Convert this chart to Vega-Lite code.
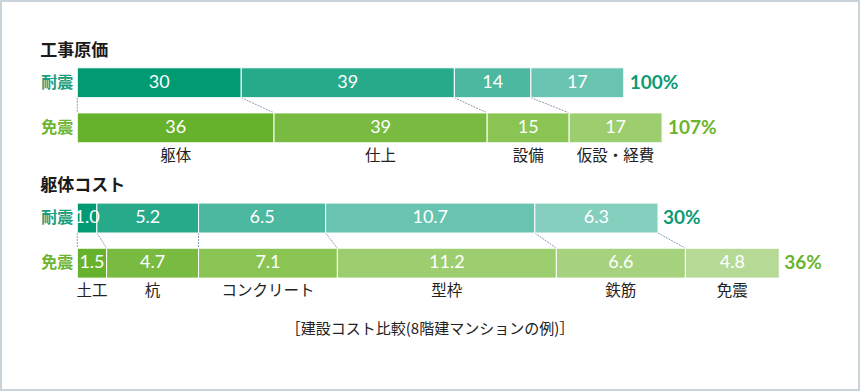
{
  "$schema": "https://vega.github.io/schema/vega-lite/v6.json",
  "width": 860,
  "height": 391,
  "autosize": {"type": "fit", "contains": "padding"},
  "padding": 0,
  "background": "white",
  "config": {
    "view": {"stroke": "#c9d3da", "strokeWidth": 4},
    "font": "Noto Sans CJK JP"
  },
  "datasets": {
    "kouji": [
      {"section": "工事原価", "row": "工事原価・耐震", "series": "耐震", "item": "躯体", "k": 1, "v": 30},
      {"section": "工事原価", "row": "工事原価・耐震", "series": "耐震", "item": "仕上", "k": 2, "v": 39},
      {"section": "工事原価", "row": "工事原価・耐震", "series": "耐震", "item": "設備", "k": 3, "v": 14},
      {"section": "工事原価", "row": "工事原価・耐震", "series": "耐震", "item": "仮設・経費", "k": 4, "v": 17},
      {"section": "工事原価", "row": "工事原価・免震", "series": "免震", "item": "躯体", "k": 1, "v": 36},
      {"section": "工事原価", "row": "工事原価・免震", "series": "免震", "item": "仕上", "k": 2, "v": 39},
      {"section": "工事原価", "row": "工事原価・免震", "series": "免震", "item": "設備", "k": 3, "v": 15},
      {"section": "工事原価", "row": "工事原価・免震", "series": "免震", "item": "仮設・経費", "k": 4, "v": 17}
    ],
    "kutai": [
      {"section": "躯体コスト", "row": "躯体コスト・耐震", "series": "耐震", "item": "土工", "k": 1, "v": 1.0},
      {"section": "躯体コスト", "row": "躯体コスト・耐震", "series": "耐震", "item": "杭", "k": 2, "v": 5.2},
      {"section": "躯体コスト", "row": "躯体コスト・耐震", "series": "耐震", "item": "コンクリート", "k": 3, "v": 6.5},
      {"section": "躯体コスト", "row": "躯体コスト・耐震", "series": "耐震", "item": "型枠", "k": 4, "v": 10.7},
      {"section": "躯体コスト", "row": "躯体コスト・耐震", "series": "耐震", "item": "鉄筋", "k": 5, "v": 6.3},
      {"section": "躯体コスト", "row": "躯体コスト・免震", "series": "免震", "item": "土工", "k": 1, "v": 1.5},
      {"section": "躯体コスト", "row": "躯体コスト・免震", "series": "免震", "item": "杭", "k": 2, "v": 4.7},
      {"section": "躯体コスト", "row": "躯体コスト・免震", "series": "免震", "item": "コンクリート", "k": 3, "v": 7.1},
      {"section": "躯体コスト", "row": "躯体コスト・免震", "series": "免震", "item": "型枠", "k": 4, "v": 11.2},
      {"section": "躯体コスト", "row": "躯体コスト・免震", "series": "免震", "item": "鉄筋", "k": 5, "v": 6.6},
      {"section": "躯体コスト", "row": "躯体コスト・免震", "series": "免震", "item": "免震", "k": 6, "v": 4.8}
    ],
    "links": [
      {"section": "工事原価", "top": "工事原価・耐震", "bot": "工事原価・免震", "a": 0, "b": 0},
      {"section": "工事原価", "top": "工事原価・耐震", "bot": "工事原価・免震", "a": 30, "b": 36},
      {"section": "工事原価", "top": "工事原価・耐震", "bot": "工事原価・免震", "a": 69, "b": 75},
      {"section": "工事原価", "top": "工事原価・耐震", "bot": "工事原価・免震", "a": 83, "b": 90},
      {"section": "躯体コスト", "top": "躯体コスト・耐震", "bot": "躯体コスト・免震", "a": 0, "b": 0},
      {"section": "躯体コスト", "top": "躯体コスト・耐震", "bot": "躯体コスト・免震", "a": 1.0, "b": 1.5},
      {"section": "躯体コスト", "top": "躯体コスト・耐震", "bot": "躯体コスト・免震", "a": 6.2, "b": 6.2},
      {"section": "躯体コスト", "top": "躯体コスト・耐震", "bot": "躯体コスト・免震", "a": 12.7, "b": 13.3},
      {"section": "躯体コスト", "top": "躯体コスト・耐震", "bot": "躯体コスト・免震", "a": 23.4, "b": 24.5},
      {"section": "躯体コスト", "top": "躯体コスト・耐震", "bot": "躯体コスト・免震", "a": 29.7, "b": 31.1}
    ]
  },
  "encoding": {
    "y": {
      "field": "row", "type": "nominal", "axis": null,
      "scale": {"type": "band", "domain": ["_a", "工事原価・耐震", "工事原価・免震", "gap", "躯体コスト・耐震", "躯体コスト・免震", "_b", "_c"], "paddingInner": 0.337, "paddingOuter": 0.503}
    }
  },
  "resolve": {"scale": {"x": "independent", "color": "independent"}},
  "layer": [
    {
      "data": {"name": "kouji"},
      "resolve": {"scale": {"color": "independent"}},
      "layer": [
        {
          "data": {"name": "links"},
          "transform": [{"filter": "datum.section == '工事原価'"}],
          "mark": {"type": "rule", "color": "#8a9bb0", "strokeWidth": 1, "strokeDash": [2, 1]},
          "encoding": {
            "x": {"field": "a", "type": "quantitative", "axis": null, "scale": {"domain": [-14.14, 143.22], "nice": false, "zero": false}},
            "x2": {"field": "b"},
            "y": {"field": "top", "type": "nominal", "bandPosition": 1, "axis": null,
              "scale": {"type": "band", "domain": ["_a", "工事原価・耐震", "工事原価・免震", "gap", "躯体コスト・耐震", "躯体コスト・免震", "_b", "_c"], "paddingInner": 0.337, "paddingOuter": 0.503}},
            "y2": {"field": "bot", "bandPosition": 0}
          }
        },
        {
          "transform": [{"filter": "datum.series == '耐震'"}],
          "mark": {"type": "bar", "stroke": "white", "strokeWidth": 1},
          "encoding": {
            "x": {"field": "v", "type": "quantitative", "stack": "zero", "axis": null, "scale": {"domain": [-14.14, 143.22], "nice": false, "zero": false}},
            "order": {"field": "k", "type": "quantitative"},
            "color": {"field": "item", "type": "nominal", "legend": null,
              "scale": {"domain": ["躯体", "仕上", "設備", "仮設・経費"], "range": ["#009a73", "#26aa8a", "#4cb8a0", "#68c4b0"]}}
          }
        },
        {
          "transform": [{"filter": "datum.series == '免震'"}],
          "mark": {"type": "bar", "stroke": "white", "strokeWidth": 1},
          "encoding": {
            "x": {"field": "v", "type": "quantitative", "stack": "zero", "axis": null, "scale": {"domain": [-14.14, 143.22], "nice": false, "zero": false}},
            "order": {"field": "k", "type": "quantitative"},
            "color": {"field": "item", "type": "nominal", "legend": null,
              "scale": {"domain": ["躯体", "仕上", "設備", "仮設・経費"], "range": ["#66b22c", "#79bb41", "#8ac554", "#9ccd6e"]}}
          }
        },
        {
          "mark": {"type": "text", "color": "white", "fontSize": 18, "font": "Lato", "baseline": "middle"},
          "encoding": {
            "x": {"field": "v", "type": "quantitative", "stack": "zero", "bandPosition": 0.5, "axis": null, "scale": {"domain": [-14.14, 143.22], "nice": false, "zero": false}},
            "detail": {"field": "item"},
            "order": {"field": "k", "type": "quantitative"},
            "text": {"field": "v", "type": "quantitative", "format": "d"}
          }
        },
        {
          "transform": [{"filter": "datum.series == '免震'"}],
          "mark": {"type": "text", "color": "#222222", "fontSize": 15.5, "baseline": "middle", "dy": 13},
          "encoding": {
            "x": {"field": "v", "type": "quantitative", "stack": "zero", "bandPosition": 0.5, "axis": null, "scale": {"domain": [-14.14, 143.22], "nice": false, "zero": false}},
            "y": {"field": "row", "type": "nominal", "bandPosition": 1, "axis": null,
              "scale": {"type": "band", "domain": ["_a", "工事原価・耐震", "工事原価・免震", "gap", "躯体コスト・耐震", "躯体コスト・免震", "_b", "_c"], "paddingInner": 0.337, "paddingOuter": 0.503}},
            "detail": {"field": "item"},
            "order": {"field": "k", "type": "quantitative"},
            "text": {"field": "item"}
          }
        },
        {
          "transform": [
            {"aggregate": [{"op": "sum", "field": "v", "as": "total"}], "groupby": ["section", "row", "series"]},
            {"calculate": "format(datum.total, '.0f') + '%'", "as": "label"}
          ],
          "layer": [
            {
              "mark": {"type": "text", "align": "left", "baseline": "middle", "dx": 6, "fontSize": 19, "fontWeight": "bold", "font": "Lato"},
              "encoding": {
                "x": {"field": "total", "type": "quantitative", "axis": null, "scale": {"domain": [-14.14, 143.22], "nice": false, "zero": false}},
                "text": {"field": "label"},
                "color": {"condition": {"test": "datum.series == '耐震'", "value": "#0b9a76"}, "value": "#6ab42d"}
              }
            },
            {
              "mark": {"type": "text", "align": "right", "baseline": "middle", "dx": -4, "fontSize": 16, "fontWeight": "bold"},
              "encoding": {
                "x": {"datum": 0, "type": "quantitative", "axis": null, "scale": {"domain": [-14.14, 143.22], "nice": false, "zero": false}},
                "text": {"field": "series"},
                "color": {"condition": {"test": "datum.series == '耐震'", "value": "#1a9e7c"}, "value": "#6cb533"}
              }
            },
            {
              "transform": [{"filter": "datum.series == '耐震'"}],
              "mark": {"type": "text", "align": "left", "baseline": "middle", "dx": -37, "dy": -32, "fontSize": 17, "fontWeight": "bold", "color": "#1a1a1a"},
              "encoding": {
                "x": {"datum": 0, "type": "quantitative", "axis": null, "scale": {"domain": [-14.14, 143.22], "nice": false, "zero": false}},
                "text": {"field": "section"}
              }
            }
          ]
        }
      ]
    },
    {
      "data": {"name": "kutai"},
      "resolve": {"scale": {"color": "independent"}},
      "layer": [
        {
          "data": {"name": "links"},
          "transform": [{"filter": "datum.section == '躯体コスト'"}],
          "mark": {"type": "rule", "color": "#8a9bb0", "strokeWidth": 1, "strokeDash": [2, 1]},
          "encoding": {
            "x": {"field": "a", "type": "quantitative", "axis": null, "scale": {"domain": [-3.954, 40.03], "nice": false, "zero": false}},
            "x2": {"field": "b"},
            "y": {"field": "top", "type": "nominal", "bandPosition": 1, "axis": null,
              "scale": {"type": "band", "domain": ["_a", "工事原価・耐震", "工事原価・免震", "gap", "躯体コスト・耐震", "躯体コスト・免震", "_b", "_c"], "paddingInner": 0.337, "paddingOuter": 0.503}},
            "y2": {"field": "bot", "bandPosition": 0}
          }
        },
        {
          "transform": [{"filter": "datum.series == '耐震'"}],
          "mark": {"type": "bar", "stroke": "white", "strokeWidth": 1},
          "encoding": {
            "x": {"field": "v", "type": "quantitative", "stack": "zero", "axis": null, "scale": {"domain": [-3.954, 40.03], "nice": false, "zero": false}},
            "order": {"field": "k", "type": "quantitative"},
            "color": {"field": "item", "type": "nominal", "legend": null,
              "scale": {"domain": ["土工", "杭", "コンクリート", "型枠", "鉄筋"], "range": ["#009a73", "#26aa8a", "#4cb8a0", "#68c4b0", "#84cfbd"]}}
          }
        },
        {
          "transform": [{"filter": "datum.series == '免震'"}],
          "mark": {"type": "bar", "stroke": "white", "strokeWidth": 1},
          "encoding": {
            "x": {"field": "v", "type": "quantitative", "stack": "zero", "axis": null, "scale": {"domain": [-3.954, 40.03], "nice": false, "zero": false}},
            "order": {"field": "k", "type": "quantitative"},
            "color": {"field": "item", "type": "nominal", "legend": null,
              "scale": {"domain": ["土工", "杭", "コンクリート", "型枠", "鉄筋", "免震"], "range": ["#66b22c", "#79bb41", "#8ac554", "#9ccd6e", "#a6d27d", "#b6da95"]}}
          }
        },
        {
          "mark": {"type": "text", "color": "white", "fontSize": 18, "font": "Lato", "baseline": "middle"},
          "encoding": {
            "x": {"field": "v", "type": "quantitative", "stack": "zero", "bandPosition": 0.5, "axis": null, "scale": {"domain": [-3.954, 40.03], "nice": false, "zero": false}},
            "detail": {"field": "item"},
            "order": {"field": "k", "type": "quantitative"},
            "text": {"field": "v", "type": "quantitative", "format": ".1f"}
          }
        },
        {
          "transform": [{"filter": "datum.series == '免震'"}],
          "mark": {"type": "text", "color": "#222222", "fontSize": 15.5, "baseline": "middle", "dy": 13},
          "encoding": {
            "x": {"field": "v", "type": "quantitative", "stack": "zero", "bandPosition": 0.5, "axis": null, "scale": {"domain": [-3.954, 40.03], "nice": false, "zero": false}},
            "y": {"field": "row", "type": "nominal", "bandPosition": 1, "axis": null,
              "scale": {"type": "band", "domain": ["_a", "工事原価・耐震", "工事原価・免震", "gap", "躯体コスト・耐震", "躯体コスト・免震", "_b", "_c"], "paddingInner": 0.337, "paddingOuter": 0.503}},
            "detail": {"field": "item"},
            "order": {"field": "k", "type": "quantitative"},
            "text": {"field": "item"}
          }
        },
        {
          "transform": [
            {"aggregate": [{"op": "sum", "field": "v", "as": "total"}], "groupby": ["section", "row", "series"]},
            {"calculate": "format(datum.total, '.0f') + '%'", "as": "label"}
          ],
          "layer": [
            {
              "mark": {"type": "text", "align": "left", "baseline": "middle", "dx": 5, "fontSize": 19, "fontWeight": "bold", "font": "Lato"},
              "encoding": {
                "x": {"field": "total", "type": "quantitative", "axis": null, "scale": {"domain": [-3.954, 40.03], "nice": false, "zero": false}},
                "text": {"field": "label"},
                "color": {"condition": {"test": "datum.series == '耐震'", "value": "#0b9a76"}, "value": "#6ab42d"}
              }
            },
            {
              "mark": {"type": "text", "align": "right", "baseline": "middle", "dx": -4, "fontSize": 16, "fontWeight": "bold"},
              "encoding": {
                "x": {"datum": 0, "type": "quantitative", "axis": null, "scale": {"domain": [-3.954, 40.03], "nice": false, "zero": false}},
                "text": {"field": "series"},
                "color": {"condition": {"test": "datum.series == '耐震'", "value": "#1a9e7c"}, "value": "#6cb533"}
              }
            },
            {
              "transform": [{"filter": "datum.series == '耐震'"}],
              "mark": {"type": "text", "align": "left", "baseline": "middle", "dx": -37, "dy": -32, "fontSize": 17, "fontWeight": "bold", "color": "#1a1a1a"},
              "encoding": {
                "x": {"datum": 0, "type": "quantitative", "axis": null, "scale": {"domain": [-3.954, 40.03], "nice": false, "zero": false}},
                "text": {"field": "section"}
              }
            }
          ]
        },
        {
          "data": {"values": [{"row": "躯体コスト・免震", "caption": "［建設コスト比較(8階建マンションの例)］"}]},
          "mark": {"type": "text", "align": "center", "baseline": "middle", "dy": 66, "fontSize": 15, "color": "#222222"},
          "encoding": {
            "x": {"value": {"expr": "width / 2"}},
            "text": {"field": "caption"}
          }
        }
      ]
    }
  ]
}
